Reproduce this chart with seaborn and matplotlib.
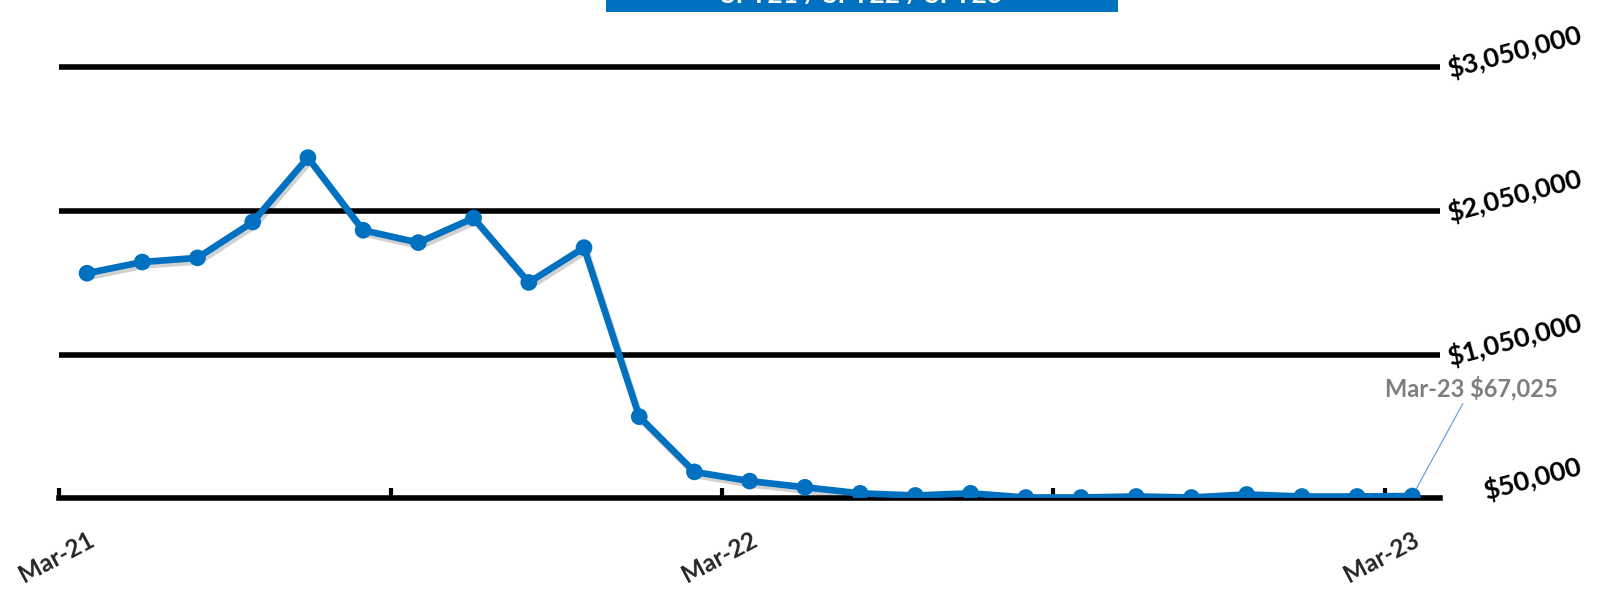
import seaborn as sns
import pandas as pd
import matplotlib.pyplot as plt
import matplotlib.patheffects as pe
from matplotlib.patches import Rectangle

sns.set_style("white")
plt.rcParams['font.family'] = ['Lato', 'DejaVu Sans']
plt.rcParams['font.weight'] = 'bold'

months = list(pd.date_range("2021-03-01", periods=25, freq="MS").strftime("%b-%y"))
amounts = [1616000, 1694000, 1723000, 1972000, 2420000, 1915000, 1829000,
           2000000, 1552000, 1794000, 619000, 235000, 171000, 128000, 86000,
           71000, 86000, 57000, 57000, 64000, 57000, 78000, 64000, 64000, 67025]
y_ticks = [50000, 1050000, 2050000, 3050000]
label_months = ["Mar-21", "Mar-22", "Mar-23"]
title = "SFY21 / SFY22 / SFY23"

blue = "#0070C0"

df = pd.DataFrame({"month": months, "amount": amounts})
df["pos"] = range(len(df))

fig = plt.figure(figsize=(16.06, 5.97), dpi=100)
ax = fig.add_axes([0.037, 0.165, 0.8596, 0.7228])

sns.lineplot(x="pos", y="amount", data=df, ax=ax, color=blue, linewidth=4.8,
             marker="o", markersize=12, markeredgewidth=0, zorder=4,
             path_effects=[pe.SimpleLineShadow(offset=(1.5, -2.5), shadow_color="k", alpha=0.18),
                           pe.Normal()])

ax.set_xlim(-0.5, len(df) - 0.5)
ax.set_ylim(y_ticks[0], y_ticks[-1])

# gridlines drawn by hand so the top one is not clipped
ax.hlines(y_ticks[1:], -0.5, len(df) - 0.5, colors="black", linewidth=4, clip_on=False, zorder=2)

for s in ["left", "right", "top"]:
    ax.spines[s].set_visible(False)
ax.spines["bottom"].set_color("black")
ax.spines["bottom"].set_linewidth(4)

major_pos = [months.index(m) for m in label_months]
ax.set_xticks(major_pos)
ax.set_xticklabels(label_months, rotation=28, ha="right", rotation_mode="anchor",
                   fontsize=17.5, fontweight="bold")
ax.set_xticks([p - 0.5 for p in range(0, len(df), 6)], minor=True)
ax.tick_params(axis="x", which="major", bottom=True, length=0, pad=21)
ax.tick_params(axis="x", which="minor", bottom=True, direction="in", length=7, width=3, color="black")
ax.set_yticks([])
ax.set(xlabel="", ylabel="")

for v in y_ticks:
    ax.annotate(f"${v:,.0f}", xy=(1, v), xycoords=("axes fraction", "data"),
                xytext=(141, 33), textcoords="offset pixels", ha="right", va="center",
                rotation=15, rotation_mode="anchor", fontsize=19.5, fontweight="bold",
                color="black", annotation_clip=False)

last = len(df) - 1
ax.annotate(f"{months[last]} ${amounts[last]:,.0f}", xy=(last, amounts[last]),
            xytext=(59, 108), textcoords="offset pixels", ha="center", va="center",
            fontsize=17, fontweight="bold", color="#7F7F7F", annotation_clip=False,
            arrowprops=dict(arrowstyle="-", color="#5B9BD5", lw=0.8, shrinkA=0, shrinkB=0),
            zorder=3)

# title banner, cut off by the top edge as in the source
fig.patches.append(Rectangle((606 / 1606, 1 - 12 / 597), 512 / 1606, 12 / 597,
                             transform=fig.transFigure, facecolor=blue, edgecolor="none"))
fig.text(862 / 1606, 1 - 3 / 597, title, ha="center", va="baseline", color="white",
         fontsize=19, fontweight="bold")

fig.savefig("out.png", dpi=100)
